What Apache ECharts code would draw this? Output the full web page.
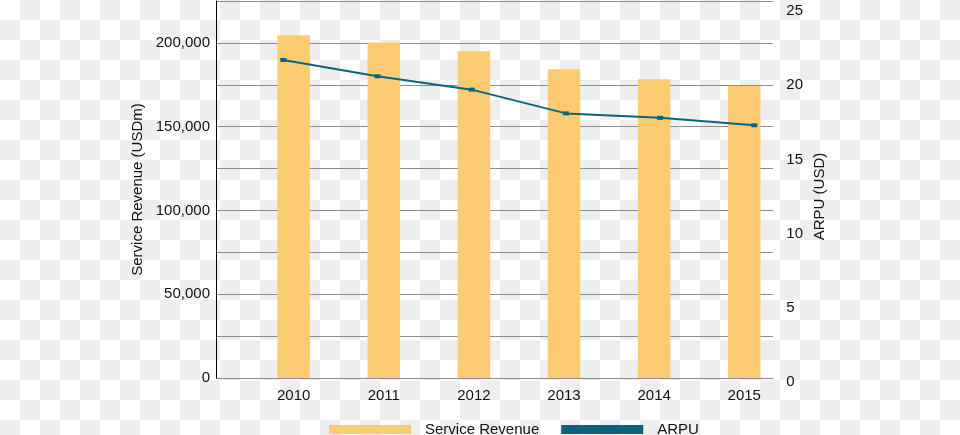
<!DOCTYPE html>
<html>
<head>
<meta charset="utf-8">
<script src="https://cdn.jsdelivr.net/npm/echarts@6/dist/echarts.min.js"></script>
<style>
    html, body {
        margin: 0;
        padding: 0;
    }
    body {
        background: repeating-conic-gradient(#eeeeee 0 25%, #ffffff 0 50%) 0 0 / 40px 40px;
    }
    #chart {
        width: 960px;
        height: 435px;
    }
</style>
</head>
<body>
<div id="chart"></div>
<script>
const years = ['2010', '2011', '2012', '2013', '2014', '2015'];
const serviceRevenue = [204500, 200300, 195000, 184300, 178300, 174300];
const arpu = [21.7, 20.6, 19.7, 18.1, 17.8, 17.3];
const revenueTicks = [0, 50000, 100000, 150000, 200000];

const barColor = '#fbcb72';
const lineColor = '#07667d';
const font = 'Liberation Sans, Arial, Helvetica, sans-serif';

function getOption() {
    let option = {
        backgroundColor: 'transparent',
        textStyle: { fontFamily: font },
        animation: false,
        legend: {
            left: 324,
            top: 417,
            itemWidth: 82,
            itemHeight: 9,
            itemGap: 22,
            textStyle: {
                fontSize: 15,
                color: '#111',
                fontFamily: font,
                padding: [0, 0, 0, 9]
            },
            data: [
                { name: 'Service Revenue', icon: 'rect' },
                { name: 'ARPU', icon: 'rect' }
            ]
        },
        grid: [
            // frame with the left axis and gridlines
            { left: 216, right: 187, top: 1, bottom: 57 },
            // bars
            { left: 248.6, right: 170.7, top: 1, bottom: 57 },
            // line
            { left: 283.3, right: 205.7, top: 11, bottom: 53 }
        ],
        xAxis: [
            { gridIndex: 0, type: 'category', data: years, show: false },
            {
                gridIndex: 1,
                type: 'category',
                data: years,
                axisLine: { show: false },
                axisTick: { show: false },
                axisLabel: { fontSize: 15, color: '#111', margin: 10, fontFamily: font }
            },
            { gridIndex: 2, type: 'category', data: years, boundaryGap: false, show: false }
        ],
        yAxis: [
            {
                gridIndex: 0,
                type: 'value',
                min: 0,
                max: 225000,
                interval: 25000,
                name: 'Service Revenue (USDm)',
                nameLocation: 'middle',
                nameGap: 68,
                nameRotate: 90,
                nameTextStyle: { fontSize: 15, color: '#111', fontFamily: font },
                axisLine: { show: true, lineStyle: { color: '#000', width: 1 } },
                axisTick: { show: false },
                axisLabel: {
                    fontSize: 15,
                    color: '#111',
                    margin: 6,
                    fontFamily: font,
                    formatter: v => revenueTicks.includes(v) ? v.toLocaleString('en-US') : ''
                },
                splitLine: { lineStyle: { color: '#8c8c8c', width: 1 } }
            },
            {
                gridIndex: 1,
                type: 'value',
                min: 0,
                max: 225000,
                show: false,
                splitLine: { show: false }
            },
            {
                gridIndex: 2,
                type: 'value',
                position: 'right',
                offset: 24,
                min: 0,
                max: 25,
                interval: 5,
                name: 'ARPU (USD)',
                nameLocation: 'middle',
                nameGap: 34,
                nameRotate: 90,
                nameTextStyle: { fontSize: 15, color: '#111', fontFamily: font },
                axisLine: { show: false },
                axisTick: { show: false },
                axisLabel: { fontSize: 15, color: '#111', margin: 8, fontFamily: font },
                splitLine: { show: false }
            }
        ],
        series: [
            {
                name: 'Service Revenue',
                type: 'bar',
                xAxisIndex: 1,
                yAxisIndex: 1,
                barWidth: 32.5,
                itemStyle: { color: barColor },
                data: serviceRevenue
            },
            {
                name: 'ARPU',
                type: 'line',
                xAxisIndex: 2,
                yAxisIndex: 2,
                symbol: 'rect',
                symbolSize: [6, 4],
                itemStyle: { color: lineColor },
                lineStyle: { color: lineColor, width: 2 },
                data: arpu
            }
        ]
    };
    return option;
}

let myChart = echarts.init(document.getElementById('chart'));
myChart.setOption(getOption());
</script>
</body>
</html>
